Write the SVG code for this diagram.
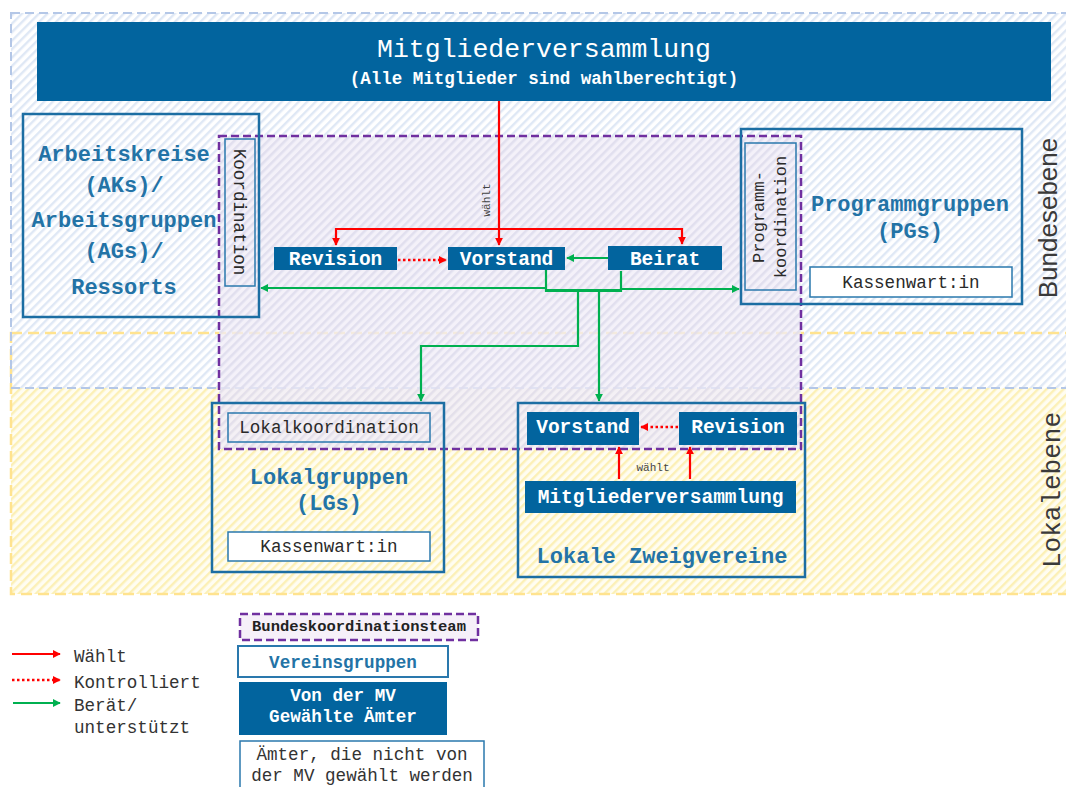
<svg xmlns="http://www.w3.org/2000/svg" width="1066" height="787" viewBox="0 0 1066 787">
<defs>
<pattern id="hb" width="6" height="6" patternUnits="userSpaceOnUse" patternTransform="rotate(45)"><rect width="6" height="6" fill="#ffffff"/><rect width="2.4" height="6" fill="#dfe8f5"/></pattern>
<pattern id="hy" width="6" height="6" patternUnits="userSpaceOnUse" patternTransform="rotate(45)"><rect width="6" height="6" fill="#fffdf1"/><rect width="2.4" height="6" fill="#fcf0b6"/></pattern>
<pattern id="hp" width="6" height="6" patternUnits="userSpaceOnUse" patternTransform="rotate(45)"><rect width="6" height="6" fill="#f0ecf6" fill-opacity="0.75"/><rect width="2.4" height="6" fill="#dedcec" fill-opacity="0.8"/></pattern>
<marker id="ar" viewBox="0 0 10 10" refX="9" refY="5" markerWidth="8" markerHeight="8" markerUnits="userSpaceOnUse" orient="auto"><path d="M0,0 L10,5 L0,10 z" fill="#ff0000"/></marker>
<marker id="ag" viewBox="0 0 10 10" refX="9" refY="5" markerWidth="8" markerHeight="8" markerUnits="userSpaceOnUse" orient="auto"><path d="M0,0 L10,5 L0,10 z" fill="#00b050"/></marker>
<style>
.mono{font-family:"Liberation Mono","DejaVu Sans Mono",monospace}
.node{fill:#02649e}
.nt{font-family:"Liberation Mono",monospace;font-weight:bold;font-size:19.5px;fill:#ffffff;text-anchor:middle}
.grp{fill:none;stroke:#1c6ea3;stroke-width:2.5}
.inner{fill:none;stroke:#2a78ad;stroke-width:1.5}
.innerw{fill:#ffffff;stroke:#2a78ad;stroke-width:1.5}
.gl{font-family:"Liberation Mono",monospace;font-weight:bold;font-size:22px;fill:#2373a6;text-anchor:middle}
.sl{font-family:"Liberation Mono",monospace;font-size:17.6px;fill:#2a2a2a;text-anchor:middle}
.lg{font-family:"Liberation Mono",monospace;font-size:17.6px;fill:#333333}
.red{fill:none;stroke:#ff0000;stroke-width:2.2}
.dot{fill:none;stroke:#ff0000;stroke-width:2.5;stroke-dasharray:2.5,2.5}
.grn{fill:none;stroke:#00b050;stroke-width:2.2}
</style>
</defs>
<rect width="1066" height="787" fill="#ffffff"/>
<!-- levels -->
<g id="lokalebene">
<rect x="11" y="333" width="1070" height="261" fill="url(#hy)"/>
</g>
<g id="bundesebene">
<rect x="11" y="13" width="1070" height="375" fill="url(#hb)"/>
</g>
<rect x="11" y="333" width="1070" height="261" fill="none" stroke="#ffe38f" stroke-width="2.5" stroke-dasharray="11,6"/>
<rect x="11" y="13" width="1070" height="375" fill="none" stroke="#b4c7e7" stroke-width="2" stroke-dasharray="9,5"/>
<text x="0" y="0" transform="translate(1057,218) rotate(-90)" text-anchor="middle" style="font-family:'Liberation Sans',Arial,sans-serif;font-size:26px;fill:#3a3a3a">Bundesebene</text>
<text x="0" y="0" transform="translate(1060,490) rotate(-90)" text-anchor="middle" style="font-family:'Liberation Mono',monospace;font-size:26px;fill:#3a3a3a">Lokalebene</text>

<!-- Bundeskoordinationsteam -->
<g id="bkt">
<rect x="219" y="136" width="582" height="313" fill="url(#hp)" stroke="#7030a0" stroke-width="2.5" stroke-dasharray="8,4"/>
</g>

<g id="mv">
<rect class="node" x="37" y="22" width="1014" height="79"/>
<text x="544" y="57" class="mono" text-anchor="middle" style="font-size:26.5px;fill:#ffffff">Mitgliederversammlung</text>
<text x="544" y="84" class="mono" text-anchor="middle" style="font-size:17.5px;font-weight:bold;fill:#ffffff">(Alle Mitglieder sind wahlberechtigt)</text>
</g>

<g id="ak">
<rect class="grp" x="23" y="114" width="236" height="203"/>
<text class="gl" x="124" y="161">Arbeitskreise</text>
<text class="gl" x="124" y="192">(AKs)/</text>
<text class="gl" x="124" y="227">Arbeitsgruppen</text>
<text class="gl" x="124" y="258">(AGs)/</text>
<text class="gl" x="124" y="294">Ressorts</text>
</g>
<g id="koordination">
<rect class="inner" x="225" y="139" width="30" height="147"/>
<text class="sl" x="0" y="0" transform="translate(234,212) rotate(90)">Koordination</text>
</g>

<g id="pg">
<rect class="grp" x="741" y="129" width="281" height="175"/>
<text class="gl" x="910" y="211">Programmgruppen</text>
<text class="gl" x="910" y="238">(PGs)</text>
</g>
<g id="programmkoordination">
<rect class="inner" x="745" y="143" width="51" height="147"/>
<g transform="translate(770,217) rotate(-90)">
<text class="sl" x="0" y="-6" style="font-size:17px">Programm-</text>
<text class="sl" x="0" y="16" style="font-size:17px">koordination</text>
</g>
</g>
<g id="kassenwart-pg">
<rect class="innerw" x="810" y="267" width="202" height="30"/>
<text class="sl" x="911" y="288">Kassenwart:in</text>
</g>

<g id="revision">
<rect class="node" x="274" y="247" width="123" height="23"/>
<text class="nt" x="335.5" y="265">Revision</text>
</g>
<g id="vorstand">
<rect class="node" x="448" y="247" width="117" height="23"/>
<text class="nt" x="506.5" y="265">Vorstand</text>
</g>
<g id="beirat">
<rect class="node" x="608" y="246" width="114" height="24"/>
<text class="nt" x="665" y="265">Beirat</text>
</g>

<g id="lg">
<rect class="grp" x="212" y="403" width="232" height="169"/>
<text class="gl" x="329" y="484">Lokalgruppen</text>
<text class="gl" x="329" y="510">(LGs)</text>
</g>
<g id="lokalkoordination">
<rect class="inner" x="228" y="413" width="202" height="29"/>
<text class="sl" x="329" y="433">Lokalkoordination</text>
</g>
<g id="kassenwart-lg">
<rect class="innerw" x="228" y="532" width="202" height="29"/>
<text class="sl" x="329" y="552">Kassenwart:in</text>
</g>

<g id="zv">
<rect class="grp" x="518" y="403" width="287" height="174"/>
<text class="gl" x="662" y="563">Lokale Zweigvereine</text>
</g>
<g id="zv-vorstand">
<rect class="node" x="527" y="412" width="112" height="33"/>
<text class="nt" x="583" y="433">Vorstand</text>
</g>
<g id="zv-revision">
<rect class="node" x="679" y="412" width="118" height="33"/>
<text class="nt" x="738" y="433">Revision</text>
</g>
<g id="zv-mv">
<rect class="node" x="525" y="481" width="271" height="32"/>
<text class="nt" x="660.5" y="503">Mitgliederversammlung</text>
</g>

<g id="connectors">
<path class="red" d="M499,101 V245" marker-end="url(#ar)"/>
<path class="red" d="M499,229 H336 V245" marker-end="url(#ar)"/>
<path class="red" d="M499,229 H682 V244" marker-end="url(#ar)"/>
<text x="0" y="0" transform="translate(490,200) rotate(-90)" text-anchor="middle" style="font-family:'Liberation Mono',monospace;font-size:11px;fill:#444">wählt</text>
<path class="dot" d="M398,260 H446" marker-end="url(#ar)"/>
<path class="grn" d="M608,258 H567" marker-end="url(#ag)"/>
<path class="grn" d="M546,270 V292"/>
<path class="grn" d="M621,271 V292"/>
<path class="grn" d="M546,290.5 H621" style="stroke-width:3"/>
<path class="grn" d="M546,288 H261" marker-end="url(#ag)"/>
<path class="grn" d="M621,289 H739" marker-end="url(#ag)"/>
<path class="grn" d="M578,291 V346 H421 V401" marker-end="url(#ag)"/>
<path class="grn" d="M599,291 V401" marker-end="url(#ag)"/>
<path class="dot" d="M678,427 H641" marker-end="url(#ar)"/>
<path class="red" d="M619,479 V447" marker-end="url(#ar)"/>
<path class="red" d="M690,479 V447" marker-end="url(#ar)"/>
<text x="653" y="471" text-anchor="middle" style="font-family:'Liberation Mono',monospace;font-size:11px;fill:#444">wählt</text>
</g>

<g id="legend">
<path class="red" d="M12,654 H60" marker-end="url(#ar)"/>
<text class="lg" x="74" y="662">Wählt</text>
<path class="dot" d="M12,680 H60" marker-end="url(#ar)"/>
<text class="lg" x="74" y="688">Kontrolliert</text>
<path class="grn" d="M13,703 H60" marker-end="url(#ag)"/>
<text class="lg" x="74" y="711">Berät/</text>
<text class="lg" x="74" y="733">unterstützt</text>
<rect x="240" y="614" width="238" height="26" fill="#f6f0f9" stroke="#7030a0" stroke-width="2.5" stroke-dasharray="8,4"/>
<text x="359" y="631" text-anchor="middle" style="font-family:'Liberation Mono',monospace;font-weight:bold;font-size:15.5px;fill:#222">Bundeskoordinationsteam</text>
<rect x="238" y="646" width="210" height="31" fill="#ffffff" stroke="#2a78ad" stroke-width="2"/>
<text x="343" y="668" text-anchor="middle" style="font-family:'Liberation Mono',monospace;font-weight:bold;font-size:17.6px;fill:#2373a6">Vereinsgruppen</text>
<rect class="node" x="239" y="682" width="208" height="53"/>
<text x="343" y="701" text-anchor="middle" style="font-family:'Liberation Mono',monospace;font-weight:bold;font-size:17.6px;fill:#ffffff">Von der MV</text>
<text x="343" y="722" text-anchor="middle" style="font-family:'Liberation Mono',monospace;font-weight:bold;font-size:17.6px;fill:#ffffff">Gewählte Ämter</text>
<rect x="240" y="741" width="244" height="52" fill="#ffffff" stroke="#2a78ad" stroke-width="1.5"/>
<text class="lg" x="362" y="760" text-anchor="middle">Ämter, die nicht von</text>
<text class="lg" x="362" y="781" text-anchor="middle">der MV gewählt werden</text>
</g>
</svg>
